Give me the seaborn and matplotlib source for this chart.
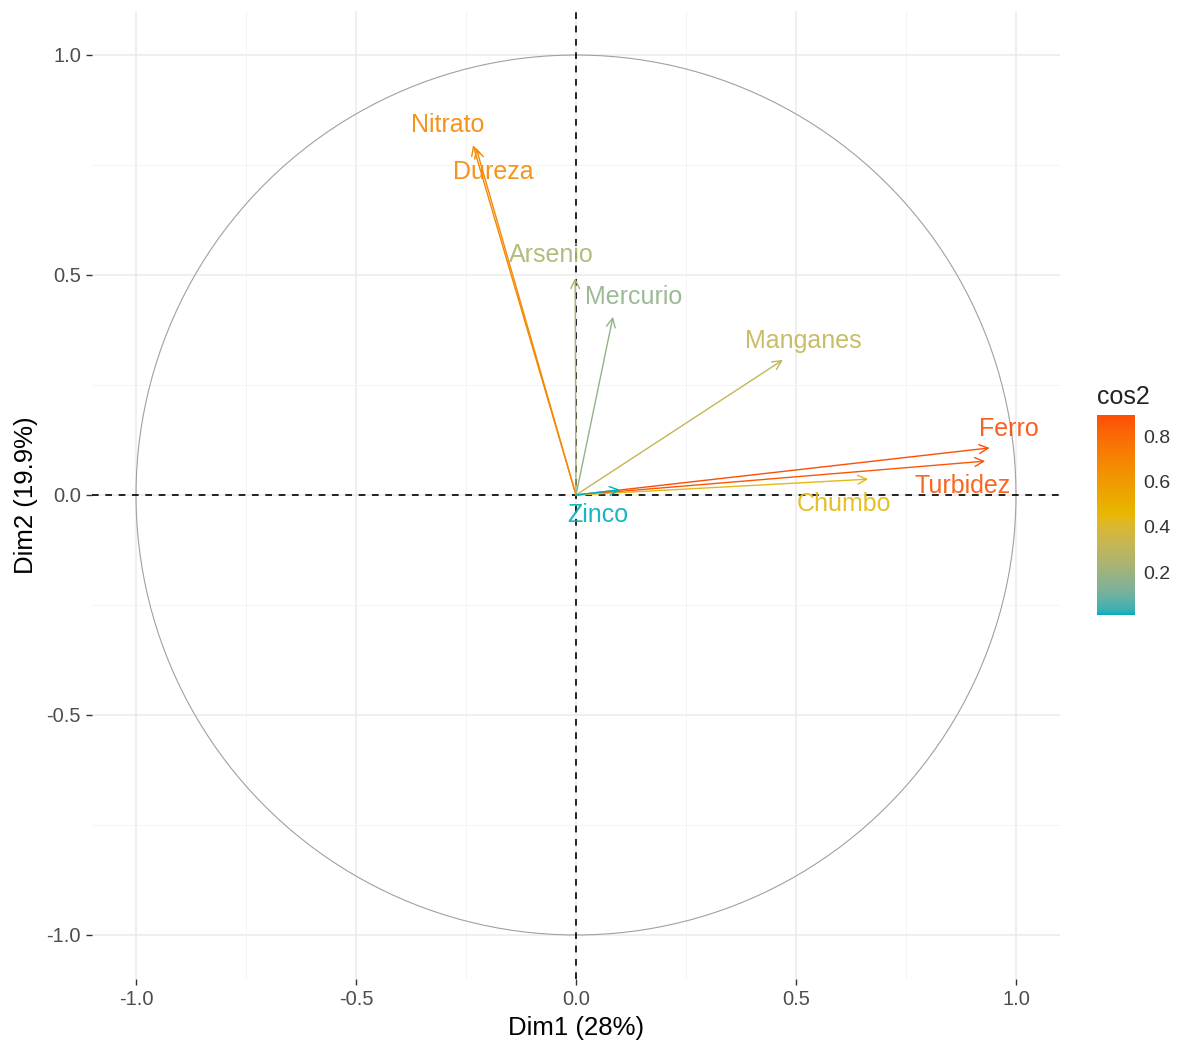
import numpy as np
import pandas as pd
import matplotlib
matplotlib.use("Agg")
import matplotlib.pyplot as plt
import seaborn as sns
from matplotlib.colors import ListedColormap, Normalize, to_rgb
from matplotlib.cm import ScalarMappable

# ---- data ----
variables = ["Nitrato", "Dureza", "Arsenio", "Mercurio", "Manganes",
             "Ferro", "Turbidez", "Chumbo", "Zinco"]
dim1 = [-0.234, -0.227, -0.002, 0.084, 0.470, 0.940, 0.930, 0.664, 0.100]
dim2 = [0.795, 0.789, 0.493, 0.405, 0.307, 0.107, 0.077, 0.036, 0.012]
# label offsets relative to arrow tip (repelled labels)
label_dx = [-0.058, 0.040, -0.055, 0.046, 0.046, 0.043, -0.052, -0.055, -0.050]
label_dy = [0.045, -0.056, 0.052, 0.046, 0.044, 0.044, -0.057, -0.056, -0.058]
x_ticks = [-1.0, -0.5, 0.0, 0.5, 1.0]
y_ticks = [-1.0, -0.5, 0.0, 0.5, 1.0]
cbar_ticks = [0.2, 0.4, 0.6, 0.8]
gradient_cols = ["#00AFBB", "#E7B800", "#FC4E07"]

df = pd.DataFrame({"var": variables, "Dim1": dim1, "Dim2": dim2})
df["cos2"] = df["Dim1"] ** 2 + df["Dim2"] ** 2


# ---- Lab-space gradient (like ggplot's scale_color_gradientn) ----
def _srgb_to_lin(c):
    c = np.asarray(c)
    return np.where(c <= 0.04045, c / 12.92, ((c + 0.055) / 1.055) ** 2.4)


def _lin_to_srgb(c):
    c = np.clip(c, 0, 1)
    return np.where(c <= 0.0031308, 12.92 * c, 1.055 * c ** (1 / 2.4) - 0.055)


M = np.array([[0.4124, 0.3576, 0.1805],
              [0.2126, 0.7152, 0.0722],
              [0.0193, 0.1192, 0.9505]])
Minv = np.linalg.inv(M)
WHITE = np.array([0.95047, 1.0, 1.08883])


def rgb_to_lab(rgb):
    xyz = M @ _srgb_to_lin(rgb) / WHITE
    f = np.where(xyz > 0.008856, np.cbrt(xyz), 7.787 * xyz + 16 / 116)
    return np.array([116 * f[1] - 16, 500 * (f[0] - f[1]), 200 * (f[1] - f[2])])


def lab_to_rgb(lab):
    L, a, b = lab
    fy = (L + 16) / 116
    fx = fy + a / 500
    fz = fy - b / 200
    f = np.array([fx, fy, fz])
    xyz = np.where(f ** 3 > 0.008856, f ** 3, (f - 16 / 116) / 7.787) * WHITE
    return _lin_to_srgb(Minv @ xyz)


labs = [rgb_to_lab(to_rgb(c)) for c in gradient_cols]
cols = []
for t in np.linspace(0, 1, 256):
    seg = min(int(t * 2), 1)
    u = t * 2 - seg
    cols.append(lab_to_rgb(labs[seg] * (1 - u) + labs[seg + 1] * u))
cmap = ListedColormap(np.clip(cols, 0, 1))
norm = Normalize(vmin=df["cos2"].min(), vmax=df["cos2"].max())

sns.set_theme(style="white")
plt.rcParams["font.family"] = ["Liberation Sans", "DejaVu Sans"]

fig = plt.figure(figsize=(11.91, 10.47), dpi=100)
ax = fig.add_axes([92 / 1191, 1 - 979 / 1047, 968 / 1191, 968 / 1047])

# grid
for v in [-1.0, -0.5, 0.0, 0.5, 1.0]:
    ax.axvline(v, color="#EBEBEB", lw=1.1, zorder=0)
    ax.axhline(v, color="#EBEBEB", lw=1.1, zorder=0)
for v in [-0.75, -0.25, 0.25, 0.75]:
    ax.axvline(v, color="#F2F2F2", lw=0.6, zorder=0)
    ax.axhline(v, color="#F2F2F2", lw=0.6, zorder=0)

# unit circle
theta = np.linspace(0, 2 * np.pi, 400)
circ = pd.DataFrame({"x": np.cos(theta), "y": np.sin(theta)})
sns.lineplot(data=circ, x="x", y="y", sort=False, estimator=None,
             color="#A0A0A0", lw=0.8, ax=ax, zorder=1)

# dashed axes
ax.axhline(0, color="black", lw=1.2, ls=(0, (4, 4)), zorder=2)
ax.axvline(0, color="black", lw=1.2, ls=(0, (4, 4)), zorder=2)

# arrows and labels
for _, r in df.iterrows():
    c = cmap(norm(r["cos2"]))
    ax.annotate("", xy=(r["Dim1"], r["Dim2"]), xytext=(0, 0),
                arrowprops=dict(arrowstyle="->", color=c, lw=1.0,
                                mutation_scale=16, shrinkA=0, shrinkB=0),
                zorder=3)
for i, r in df.iterrows():
    c = cmap(norm(r["cos2"]))
    ax.text(r["Dim1"] + label_dx[i], r["Dim2"] + label_dy[i], r["var"],
            color=c, fontsize=18, ha="center", va="center", zorder=4, alpha=0.9)

ax.set_xlim(-1.1, 1.1)
ax.set_ylim(-1.1, 1.1)
ax.set_xticks(x_ticks)
ax.set_yticks(y_ticks)
ax.set_xticklabels([f"{t:.1f}" for t in x_ticks])
ax.set_yticklabels([f"{t:.1f}" for t in y_ticks])
ax.tick_params(axis="both", which="major", length=4, width=1, color="#333333",
               labelcolor="#4D4D4D", labelsize=14.5, pad=4, bottom=True, left=True)
ax.set_xlabel("Dim1 (28%)", fontsize=18.5, color="black", labelpad=5)
ax.set_ylabel("Dim2 (19.9%)", fontsize=18.5, color="black", labelpad=6)
for s in ax.spines.values():
    s.set_visible(False)
ax.grid(False)

# colorbar
cax = fig.add_axes([1097 / 1191, 1 - 615 / 1047, 38 / 1191, 200 / 1047])
sm = ScalarMappable(norm=norm, cmap=cmap)
cb = fig.colorbar(sm, cax=cax, ticks=cbar_ticks)
cb.outline.set_visible(False)
cb.ax.set_yticklabels([f"{t:.1f}" for t in cbar_ticks])
cb.ax.tick_params(direction="in", length=7, width=1, color="white",
                  left=True, right=True, labelsize=14, labelcolor="#333333", pad=6)
cax.set_title("cos2", fontsize=18, loc="left", pad=8, color="#222222")

fig.savefig("out.png", dpi=100, facecolor="white")
